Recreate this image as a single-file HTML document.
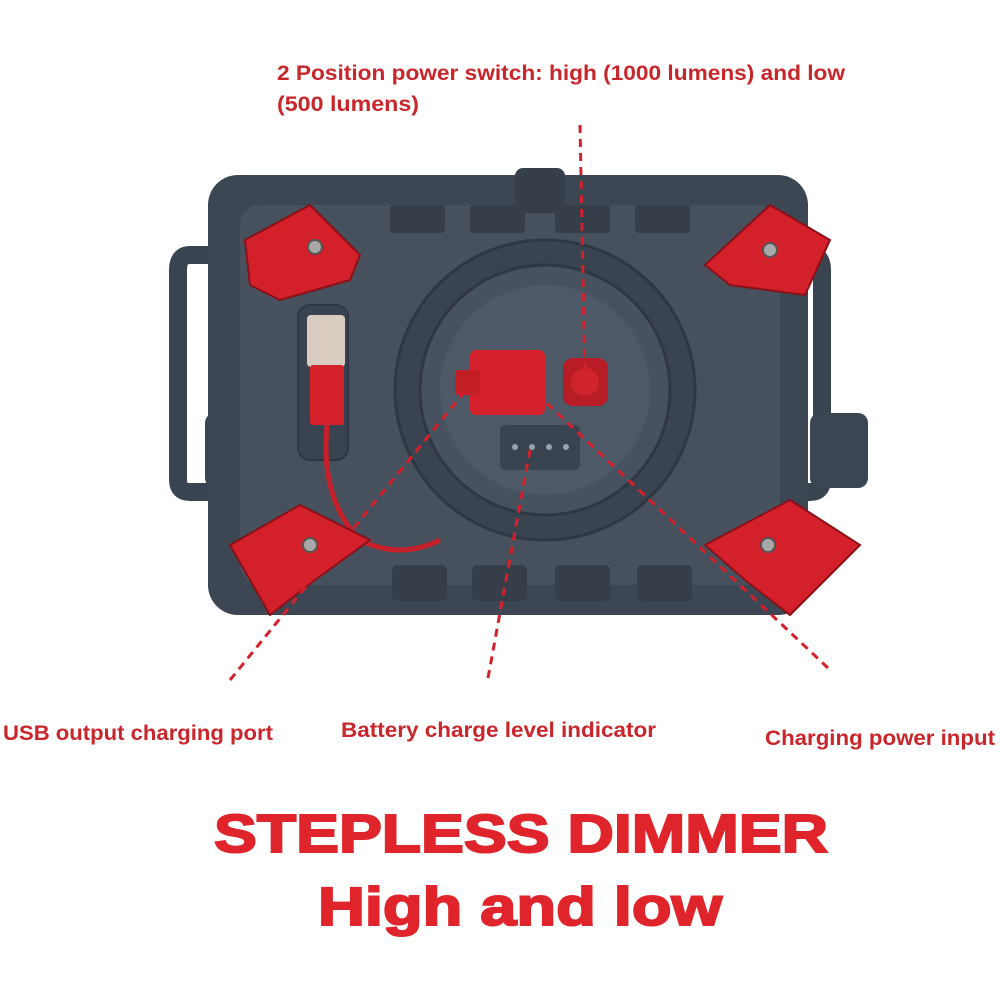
<!DOCTYPE html>
<html><head><meta charset="utf-8"><style>
html,body{margin:0;padding:0;background:#fff;width:1000px;height:1000px;overflow:hidden}
svg{display:block}
.l{font-family:"Liberation Sans",sans-serif;font-weight:bold;fill:#c8262b;font-size:21px}
.t{font-family:"Liberation Sans",sans-serif;font-weight:900;fill:#e0242b;font-size:54px;stroke:#e0242b;stroke-width:2}
</style></head><body>
<svg width="1000" height="1000" viewBox="0 0 1000 1000">
<path d="M215 255 L190 255 Q178 255 178 270 L178 480 Q178 492 190 492 L215 492" fill="none" stroke="#3a4450" stroke-width="18"/>
<path d="M785 255 L810 255 Q822 255 822 270 L822 480 Q822 492 810 492 L785 492" fill="none" stroke="#3a4450" stroke-width="18"/>
<rect x="205" y="413" width="68" height="75" rx="10" fill="#3c4652"/>
<rect x="810" y="413" width="58" height="75" rx="10" fill="#3c4652"/>
<rect x="208" y="175" width="600" height="440" rx="30" fill="#3d4753"/>
<rect x="240" y="205" width="540" height="380" rx="20" fill="#46515d"/>
<rect x="515" y="168" width="50" height="45" rx="8" fill="#353e49"/>
<g fill="#353e49"><rect x="390" y="205" width="55" height="28" rx="4"/><rect x="470" y="205" width="55" height="28" rx="4"/><rect x="555" y="205" width="55" height="28" rx="4"/><rect x="635" y="205" width="55" height="28" rx="4"/></g>
<g fill="#353e49"><rect x="392" y="565" width="55" height="36" rx="5"/><rect x="472" y="565" width="55" height="36" rx="5"/><rect x="555" y="565" width="55" height="36" rx="5"/><rect x="637" y="565" width="55" height="36" rx="5"/></g>
<circle cx="545" cy="390" r="150" fill="#3a4450" stroke="#2f3842" stroke-width="3"/>
<circle cx="545" cy="390" r="125" fill="#465260" stroke="#2f3842" stroke-width="3"/>
<circle cx="545" cy="390" r="105" fill="#4d5966"/>
<rect x="500" y="425" width="80" height="45" rx="5" fill="#3a4450"/>
<g fill="#9aa3ab"><circle cx="515" cy="447" r="3"/><circle cx="532" cy="447" r="3"/><circle cx="549" cy="447" r="3"/><circle cx="566" cy="447" r="3"/></g>
<rect x="470" y="350" width="75" height="65" rx="6" fill="#d4202a"/>
<rect x="455" y="370" width="25" height="25" rx="3" fill="#c41e27"/>
<rect x="563" y="358" width="45" height="48" rx="10" fill="#b81c25"/>
<circle cx="585" cy="382" r="14" fill="#d0242c"/>
<rect x="298" y="305" width="50" height="155" rx="12" fill="#3a4450" stroke="#2f3842" stroke-width="2"/>
<rect x="307" y="315" width="38" height="52" rx="4" fill="#d8ccc0"/>
<rect x="310" y="365" width="34" height="60" rx="3" fill="#d4202a"/>
<path d="M327 425 Q320 500 360 540 Q400 560 440 540" fill="none" stroke="#c8202a" stroke-width="5"/>
<g fill="#d4202a" stroke="#8c1018" stroke-width="2">
<path d="M245 240 L310 205 L360 255 L350 280 L280 300 L250 285 Z"/>
<path d="M770 205 L830 240 L805 295 L730 285 L705 265 Z"/>
<path d="M230 545 L300 505 L370 540 L315 580 L270 615 Z"/>
<path d="M705 545 L790 500 L860 545 L790 615 L745 580 Z"/>
</g>
<g fill="#a8a8a8" stroke="#555" stroke-width="2"><circle cx="315" cy="247" r="7"/><circle cx="770" cy="250" r="7"/><circle cx="310" cy="545" r="7"/><circle cx="768" cy="545" r="7"/></g>
<g stroke="#d4202a" stroke-width="3" stroke-dasharray="8 6" fill="none">
<line x1="580" y1="125" x2="585" y2="380"/>
<line x1="230" y1="680" x2="470" y2="385"/>
<line x1="488" y1="678" x2="530" y2="450"/>
<line x1="828" y1="668" x2="520" y2="378"/>
</g>
<text class="l" x="277" y="80" textLength="568" lengthAdjust="spacingAndGlyphs">2 Position power switch: high (1000 lumens) and low</text>
<text class="l" x="277" y="111" textLength="142" lengthAdjust="spacingAndGlyphs">(500 lumens)</text>
<text class="l" x="3" y="740" textLength="270" lengthAdjust="spacingAndGlyphs">USB output charging port</text>
<text class="l" x="341" y="737" textLength="315" lengthAdjust="spacingAndGlyphs">Battery charge level indicator</text>
<text class="l" x="765" y="745" textLength="230" lengthAdjust="spacingAndGlyphs">Charging power input</text>
<text class="t" x="214" y="852" textLength="614" lengthAdjust="spacingAndGlyphs">STEPLESS DIMMER</text>
<text class="t" x="318" y="925" textLength="404" lengthAdjust="spacingAndGlyphs">High and low</text>
</svg>
</body></html>
